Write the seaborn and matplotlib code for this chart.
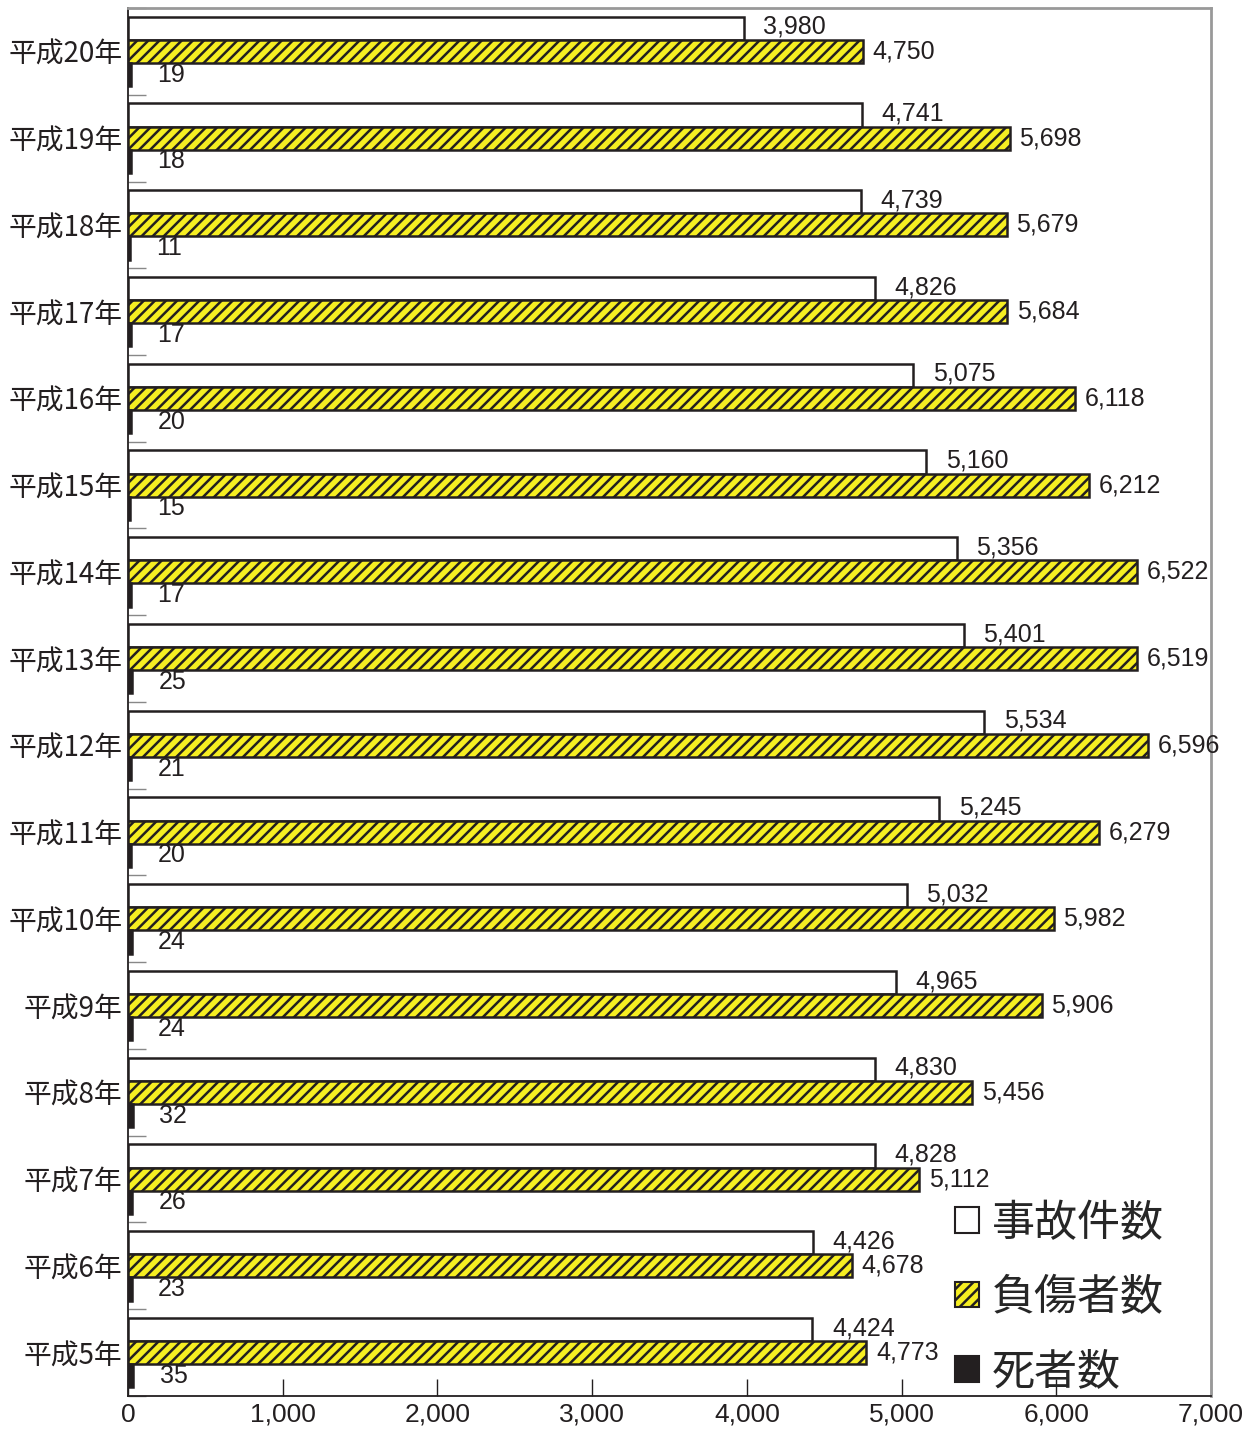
import matplotlib
matplotlib.use("Agg")
import matplotlib.pyplot as plt
from matplotlib.patches import Patch
import seaborn as sns
import pandas as pd

# データ（上から 平成20年 → 平成5年）
years = ["平成20年", "平成19年", "平成18年", "平成17年", "平成16年", "平成15年",
         "平成14年", "平成13年", "平成12年", "平成11年", "平成10年", "平成9年",
         "平成8年", "平成7年", "平成6年", "平成5年"]
accidents = [3980, 4741, 4739, 4826, 5075, 5160, 5356, 5401, 5534, 5245, 5032,
             4965, 4830, 4828, 4426, 4424]
injured = [4750, 5698, 5679, 5684, 6118, 6212, 6522, 6519, 6596, 6279, 5982,
           5906, 5456, 5112, 4678, 4773]
deaths = [19, 18, 11, 17, 20, 15, 17, 25, 21, 20, 24, 24, 32, 26, 23, 35]
series = ["事故件数", "負傷者数", "死者数"]
colors = {"事故件数": "white", "負傷者数": "#f6ee22", "死者数": "#231f20"}
xticks = [0, 1000, 2000, 3000, 4000, 5000, 6000, 7000]

sns.set_theme(style="white")
plt.rcParams["font.family"] = ["Noto Sans CJK JP", "DejaVu Sans"]
plt.rcParams["hatch.linewidth"] = 1.8
num_font = ["Liberation Sans Narrow", "Liberation Sans", "DejaVu Sans"]

df = pd.DataFrame({
    "年": years * 3,
    "種類": [s for s in series for _ in years],
    "件数": accidents + injured + deaths,
})

fig = plt.figure(figsize=(12.5, 14.29), dpi=100)
ax = fig.add_axes([0.1024, 0.0231, 0.8664, 0.9713])

sns.barplot(data=df, y="年", x="件数", hue="種類", order=years, hue_order=series,
            palette=colors, orient="h", width=0.8, ax=ax, legend=False,
            edgecolor="#231f20", linewidth=1.8, saturation=1)

for cont, name in zip(ax.containers, series):
    for p in cont:
        p.set_edgecolor("#231f20")
        if name == "負傷者数":
            p.set_hatch("///")

# 値ラベル
for cont, name, vals in zip(ax.containers, series, [accidents, injured, deaths]):
    for p, v in zip(cont, vals):
        yc = p.get_y() + p.get_height() / 2
        if name == "事故件数":
            off, dy = 14, 1
        elif name == "負傷者数":
            off, dy = 7, 0
        else:
            off, dy = 19, 0
        ax.annotate(f"{v:,}", (p.get_width(), yc), xytext=(off, dy),
                    textcoords="offset points", va="center", ha="left",
                    fontsize=18, family=num_font, color="#231f20")

ax.set_xlim(0, 7000)
ax.set_ylim(len(years) - 0.5, -0.5)
ax.set_xticks(xticks)
ax.set_xticklabels([f"{t:,}" for t in xticks], family=num_font, fontsize=19,
                   color="#231f20")
ax.tick_params(axis="x", direction="in", length=12, width=1, color="#231f20",
               bottom=True, pad=5)
ax.set_yticks(range(len(years)))
ax.set_yticklabels(years, fontsize=20, color="#231f20")
ax.tick_params(axis="y", length=0, pad=4)
ax.set_yticks([i - 0.5 for i in range(len(years) + 1)], minor=True)
ax.tick_params(axis="y", which="minor", direction="in", length=13, width=1,
               color="#888888", left=True)
ax.set_xlabel("")
ax.set_ylabel("")

for side in ["left", "bottom"]:
    ax.spines[side].set_color("#231f20")
    ax.spines[side].set_linewidth(1.3)
for side in ["top", "right"]:
    ax.spines[side].set_color("#999999")
    ax.spines[side].set_linewidth(2)

handles = [Patch(facecolor=colors[s], edgecolor="#231f20", linewidth=1.5,
                 hatch="///" if s == "負傷者数" else None) for s in series]
fig.legend(handles, series, loc="lower left", bbox_to_anchor=(0.747, 0.0095),
           frameon=False, fontsize=31, handlelength=0.55, handleheight=0.55,
           handletextpad=0.3, labelspacing=0.7, borderpad=0)

fig.savefig("out.png", dpi=100)
